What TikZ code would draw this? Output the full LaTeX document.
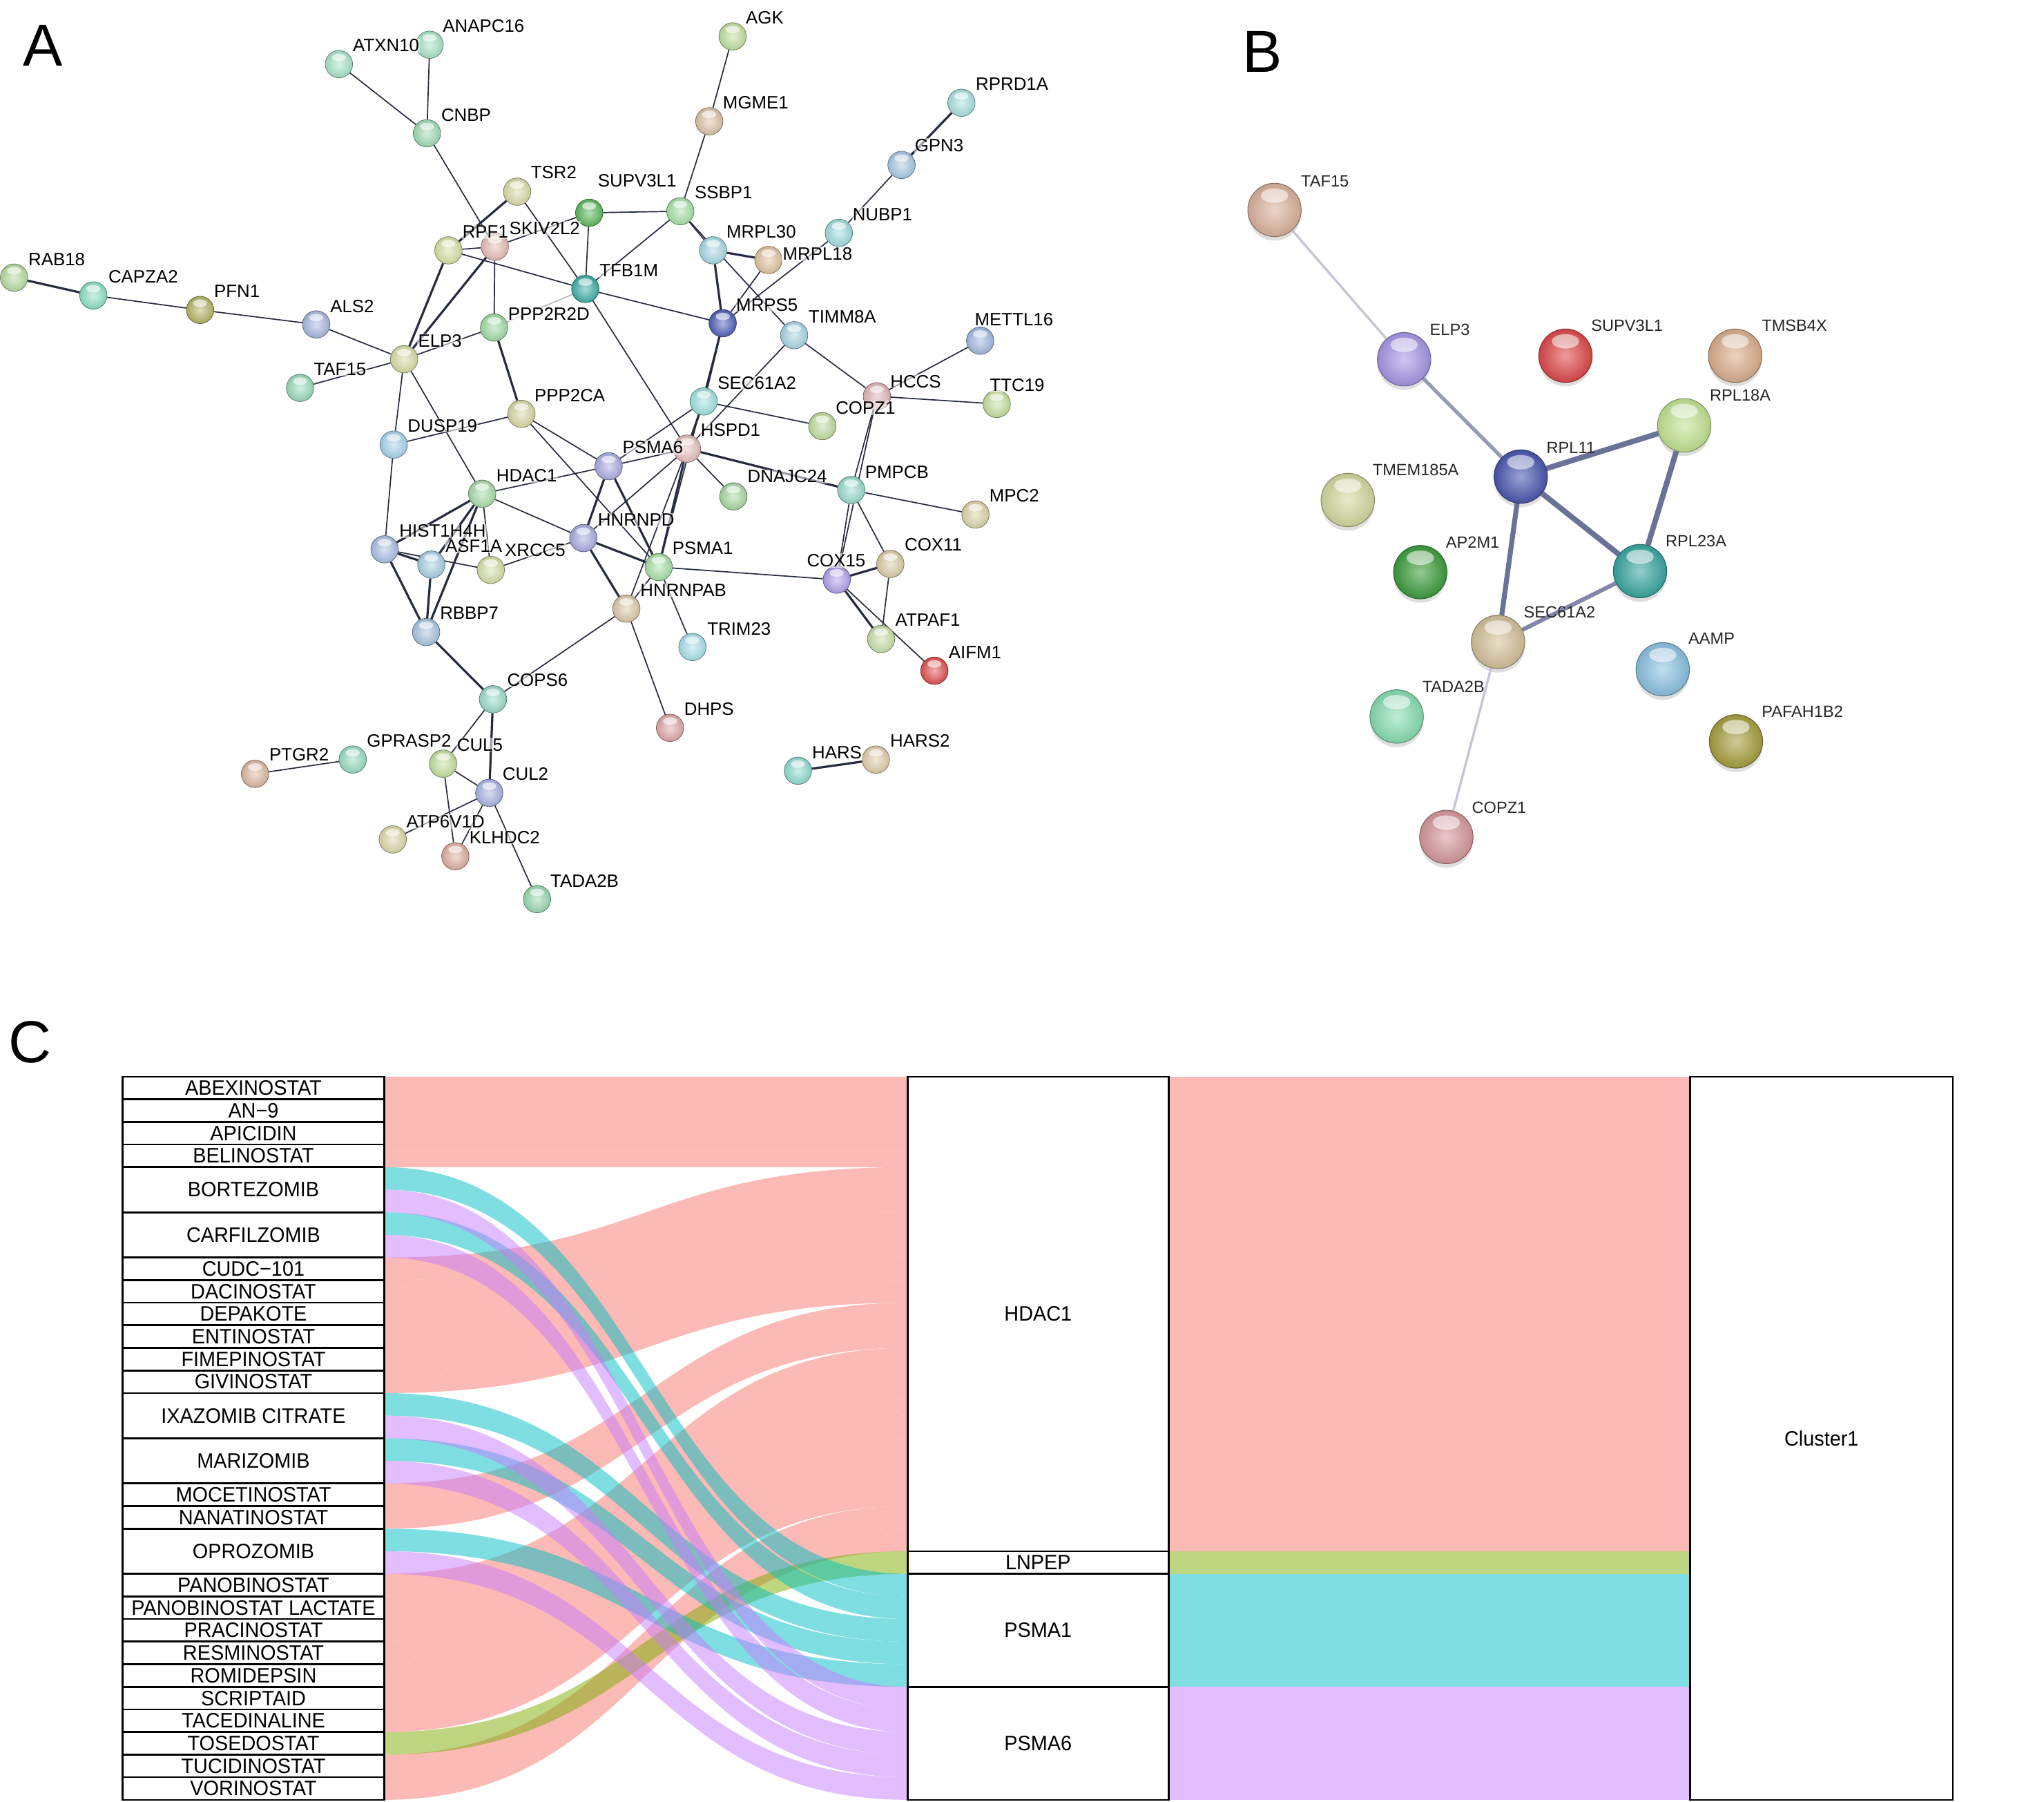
\documentclass[tikz,border=0pt]{standalone}
\usepackage{fontspec}
\setmainfont{Liberation Sans}
\usepackage{graphicx}
\pgfdeclarelayer{bg}
\pgfdeclarelayer{edges}
\pgfdeclarelayer{labels}
\pgfsetlayers{bg,edges,main,labels}
\definecolor{edgec}{HTML}{262C40}
\definecolor{fHD}{HTML}{F8766D}
\definecolor{fLN}{HTML}{7CAE00}
\definecolor{fPa}{HTML}{00BFC4}
\definecolor{fPb}{HTML}{C77CFF}
\definecolor{blA}{HTML}{C4C6D4}
\definecolor{blB}{HTML}{959CB4}
\definecolor{blC}{HTML}{6A7298}
\definecolor{blD}{HTML}{8088A8}
\newcommand\lblA{\fontsize{13.7}{14}\selectfont}
\newcommand\lblB{\fontsize{12.5}{13}\selectfont}
\newcommand\lblC{\fontsize{16}{17}\selectfont}
\newcommand\ctxt[1]{\scalebox{0.955}[1]{#1}}
\tikzset{
 ballA/.style={circle,inner sep=0pt,minimum size=21pt,draw=#1!55!black,line width=0.4pt,inner color=#1!45!white,outer color=#1!92!black,
   path picture={\fill[white,opacity=0.6] (path picture bounding box.center) ++(0,-5.2) ellipse (5.4 and 2.9);}},
 ballB/.style={circle,inner sep=0pt,minimum size=41pt,draw=#1!60!black,line width=0.5pt,inner color=#1!55!white,outer color=#1!90!black,
   path picture={\fill[white,opacity=0.55] (path picture bounding box.center) ++(0,-11) ellipse (10.5 and 5.5);}},
 labA/.style={anchor=west,inner sep=0.6pt,font=\lblA,fill=white,fill opacity=0.55,text opacity=1},
 labB/.style={anchor=west,inner sep=0.5pt,font=\lblB,text=black!85},
 ea/.style={draw=edgec,line width=0.9pt},
 eb/.style={draw=edgec,line width=1.7pt},
 flw/.style={fill=#1,fill opacity=0.5},
 cbox/.style={draw=black,line width=1.4pt,fill=white,inner sep=0pt,font=\lblC},
 plet/.style={anchor=base west,inner sep=0pt,font=\fontsize{45.5}{46}\selectfont},
}
\newcommand\gA[6]{\definecolor{c#1}{HTML}{#2}\node[ballA=c#1] (#1) at (#3,#4) {};\begin{pgfonlayer}{labels}\node[labA] (#1-l) at (#5,#6) {#1};\end{pgfonlayer}}
\newcommand\gB[6]{\definecolor{cB#1}{HTML}{#2}\begin{pgfonlayer}{bg}\fill[black,opacity=0.13] ({#3},{#4+3}) circle (20.5);\end{pgfonlayer}\node[ballB=cB#1] (B#1) at (#3,#4) {};\begin{pgfonlayer}{labels}\node[labB] (B#1-l) at (#5,#6) {#1};\end{pgfonlayer}}
\newcommand\flowL[3]{\fill[flw=#1] (294.7,{825.8+17.33*#2}) .. controls (495.45,{825.8+17.33*#2}) and (495.45,{825.8+17.33*#3}) .. (696.2,{825.8+17.33*#3}) -- (696.2,{825.8+17.33*(#3+1)}) .. controls (495.45,{825.8+17.33*(#3+1)}) and (495.45,{825.8+17.33*(#2+1)}) .. (294.7,{825.8+17.33*(#2+1)}) -- cycle;}
\begin{document}
\begin{tikzpicture}[x=1pt,y=-1pt]
\begin{pgfonlayer}{bg}
\fill[white] (0,0) rectangle (1568,1382);
\end{pgfonlayer}
\useasboundingbox (0,0) rectangle (1568,1382);
% ---------------- panel letters
\node[plet] (pA) at (17.7,50.7) {A};
\node[plet] (pB) at (953,55.1) {B};
\node[plet] (pC) at (6.5,815.2) {C};
% ---------------- panel A nodes
\gA{ATXN10}{A8E4C8}{260}{49.2}{270}{35}
\gA{ANAPC16}{A8E4C4}{329.6}{34.3}{339}{20}
\gA{CNBP}{A0DCB4}{327.5}{102.2}{337.7}{88}
\gA{RAB18}{B8DCA0}{10.8}{212.9}{21}{198.7}
\gA{CAPZA2}{8EE0C4}{71.6}{226.6}{82.4}{212}
\gA{PFN1}{B4B464}{153.5}{237.7}{163.5}{223.5}
\gA{ALS2}{A8B8E0}{242.6}{248.8}{252.6}{234.8}
\gA{ELP3}{D8DCA4}{310}{275.5}{320}{261.3}
\gA{TAF15}{98DCB8}{230.2}{297.5}{240}{283}
\gA{TSR2}{D8DCA8}{396.7}{147}{406.5}{132.4}
\gA{RPF1}{D8E0A4}{344}{192}{354}{178}
\gA{SKIV2L2}{E8BCB4}{379.6}{189.2}{390}{175}
\gA{PPP2R2D}{A0DCA4}{379}{251.2}{389}{241}
\gA{PPP2CA}{D8D8A8}{400}{317.4}{409.3}{303.2}
\gA{DUSP19}{A8D4EC}{302}{341}{312}{326.4}
\gA{HDAC1}{A8DCA8}{369.9}{378.7}{380}{364.9}
\gA{AGK}{C0E0A0}{562}{27.9}{571.4}{13.7}
\gA{MGME1}{DCC4A8}{544.1}{93}{553.8}{78.8}
\gA{RPRD1A}{A8E0E0}{737.5}{78.8}{747.8}{64.3}
\gA{GPN3}{A8C8E4}{691.6}{126.5}{701}{111.6}
\gA{NUBP1}{A0DCE0}{643.5}{178.6}{653.3}{164.4}
\gA{SUPV3L1}{5CB85C}{452}{163.2}{457.9}{138.4}
\gA{SSBP1}{A8E0A8}{521.9}{162}{532.2}{147.8}
\gA{MRPL30}{A8D8E4}{547}{192}{556.5}{177.8}
\gA{MRPL18}{E0C4A0}{589.5}{199.4}{599.7}{194.8}
\gA{TFB1M}{3EAEA6}{449}{221.6}{459.2}{207.4}
\gA{MRPS5}{5060B8}{554.4}{247.9}{564}{233.7}
\gA{TIMM8A}{A8D4E4}{609.2}{257.1}{619.5}{242.9}
\gA{METTL16}{A0B8E0}{751.9}{261.3}{747}{244.8}
\gA{SEC61A2}{A0E0E0}{539.8}{307.9}{549.8}{293.7}
\gA{HCCS}{E0B4B4}{672.7}{303.9}{682.2}{292.5}
\gA{COPZ1}{C0DCA0}{630.8}{326.8}{640.3}{312.7}
\gA{TTC19}{C4E0A0}{764.6}{309.8}{758.6}{295.2}
\gA{HSPD1}{E8C0BC}{527}{344.1}{536.8}{330}
\gA{PSMA6}{A8ACE0}{466.9}{357.6}{476.8}{343}
\gA{DNAJC24}{A8D8A0}{562.6}{380.7}{572.7}{365.4}
\gA{PMPCB}{98DCCC}{653}{375.8}{662.9}{362}
\gA{MPC2}{DCD4A8}{748.3}{394.6}{758.2}{380}
\gA{COX11}{DCCCA8}{683}{432.5}{693.2}{417.9}
\gA{COX15}{B0A0E8}{641.9}{444.6}{618.2}{430}
\gA{PSMA1}{A8E0A8}{505.3}{434.9}{515.1}{420.3}
\gA{HNRNPD}{A8ACE0}{447.5}{412.7}{457.9}{398.9}
\gA{HNRNPAB}{DCC8A8}{480.5}{466.8}{490.5}{452.9}
\gA{TRIM23}{A8E0E8}{531.2}{496.2}{541.8}{482.1}
\gA{ATPAF1}{C8E0A8}{675.9}{490.1}{686.1}{475.5}
\gA{AIFM1}{E05050}{716.8}{514.4}{727}{500.6}
\gA{DHPS}{E0A8A8}{514}{558.2}{524.1}{543.6}
\gA{HARS}{90DCD0}{612.1}{591.1}{622.2}{577}
\gA{HARS2}{E0CCA8}{671.9}{582.6}{682.1}{568}
\gA{HIST1H4H}{A8C0E4}{295}{421.3}{305.6}{407.4}
\gA{ASF1A}{A8D0E4}{330.9}{433}{341}{418.9}
\gA{XRCC5}{D4E0A8}{376.5}{437.1}{386.5}{422}
\gA{RBBP7}{A8C4E0}{326.9}{484.8}{336.8}{470.2}
\gA{COPS6}{98DCC8}{378.2}{536.3}{388.3}{521.7}
\gA{PTGR2}{DCB8A0}{195.6}{593.5}{205.8}{578.9}
\gA{GPRASP2}{98DCC0}{270.6}{582.5}{280.7}{568}
\gA{CUL5}{C4E0A0}{339.9}{585.7}{349.8}{571.1}
\gA{CUL2}{A8B4E4}{375.3}{608.1}{384.8}{593.5}
\gA{ATP6V1D}{DCD8A8}{301.3}{643.8}{311}{630}
\gA{KLHDC2}{DCB0A0}{349.3}{656.7}{359.3}{642.1}
\gA{TADA2B}{98D8B0}{412}{689.6}{421.5}{675.7}
% ---------------- panel B nodes
\gB{TAF15}{DDB49E}{977.7}{161}{997.4}{139.2}
\gB{ELP3}{A898E8}{1077.1}{275.5}{1096.2}{253}
\gB{SUPV3L1}{E04A4A}{1200.9}{272.8}{1220}{249.9}
\gB{TMSB4X}{DDB08E}{1331.1}{272.8}{1350.8}{249.9}
\gB{RPL18A}{C4E694}{1292}{326.2}{1311}{303.3}
\gB{RPL11}{4A58B0}{1166.6}{365.5}{1185.7}{343.4}
\gB{TMEM185A}{D6DBA0}{1033.9}{383.5}{1052.3}{360.6}
\gB{AP2M1}{3E9E3E}{1089.5}{438.8}{1108.5}{416}
\gB{RPL23A}{3AA8A2}{1258.1}{438}{1277.1}{415.2}
\gB{SEC61A2}{D6C49C}{1149.2}{492.3}{1168.2}{469.4}
\gB{AAMP}{8CC4E4}{1275.5}{513.3}{1294.6}{489.6}
\gB{TADA2B}{8AE0B4}{1071.4}{549.5}{1090.4}{526.6}
\gB{PAFAH1B2}{A8A040}{1331.7}{568.6}{1350.8}{545.7}
\gB{COPZ1}{D89A9E}{1109.5}{641.9}{1128.5}{619.4}
% ---------------- edges
\begin{pgfonlayer}{edges}
\foreach \a/\b in {ATXN10/CNBP, ANAPC16/CNBP, CNBP/SKIV2L2, TSR2/TFB1M, RPF1/SKIV2L2, SKIV2L2/SUPV3L1, RPF1/TFB1M, TFB1M/MRPS5, SKIV2L2/PPP2R2D, ELP3/PPP2R2D, ELP3/ALS2, ELP3/TAF15, ALS2/PFN1, PFN1/CAPZA2, ELP3/DUSP19, ELP3/HDAC1, PPP2CA/DUSP19, PPP2CA/PSMA6, PPP2CA/PSMA1, AGK/MGME1, MGME1/SSBP1, SUPV3L1/SSBP1, SUPV3L1/TFB1M, SSBP1/TFB1M, SSBP1/MRPL30, SSBP1/TIMM8A, MRPL18/MRPS5, NUBP1/GPN3, NUBP1/MRPS5, TIMM8A/HCCS, TIMM8A/HSPD1, HCCS/METTL16, HCCS/TTC19, HCCS/PMPCB, HCCS/COX15, PMPCB/COX15, SEC61A2/COPZ1, SEC61A2/PSMA6, MRPS5/PSMA1, HSPD1/HNRNPAB, TFB1M/HSPD1, PSMA6/HSPD1, HSPD1/DNAJC24, PSMA6/HDAC1, HSPD1/HNRNPD, HDAC1/HNRNPD, HDAC1/XRCC5, XRCC5/HNRNPD, HNRNPAB/COPS6, HNRNPAB/DHPS, HNRNPAB/PSMA1, PSMA1/COX15, PSMA1/TRIM23, PMPCB/COX11, COX11/ATPAF1, COX15/AIFM1, PMPCB/MPC2, DUSP19/HIST1H4H, HIST1H4H/XRCC5, COPS6/CUL5, CUL5/CUL2, CUL5/KLHDC2, CUL2/ATP6V1D, CUL2/KLHDC2, CUL2/TADA2B, GPRASP2/PTGR2}
  \draw[ea] (\a) -- (\b);
\foreach \a/\b in {TSR2/RPF1, RPF1/ELP3, SKIV2L2/ELP3, CAPZA2/RAB18, PPP2R2D/PPP2CA, MRPL30/MRPL18, MRPL30/MRPS5, GPN3/RPRD1A, MRPS5/SEC61A2, SEC61A2/HSPD1, HSPD1/PSMA1, HSPD1/PMPCB, PSMA6/HNRNPD, PSMA6/PSMA1, HNRNPD/PSMA1, HNRNPD/HNRNPAB, COX15/COX11, COX15/ATPAF1, HARS/HARS2, HDAC1/HIST1H4H, HDAC1/ASF1A, HDAC1/RBBP7, HIST1H4H/ASF1A, HIST1H4H/RBBP7, ASF1A/RBBP7, RBBP7/COPS6, COPS6/CUL2}
  \draw[eb] (\a) -- (\b);
\draw[draw=gray!55,line width=0.9pt] (PPP2R2D) -- (TFB1M);
% panel B edges
\draw[draw=blA,line width=1.8pt] (BTAF15) -- (BELP3);
\draw[draw=blB,line width=2.8pt] (BELP3) -- (BRPL11);
\draw[draw=blC,line width=4.2pt] (BRPL11) -- (BRPL18A);
\draw[draw=blC,line width=4.2pt] (BRPL11) -- (BRPL23A);
\draw[draw=blC,line width=4.2pt] (BRPL18A) -- (BRPL23A);
\draw[draw=blC,line width=3.8pt] (BRPL11) -- (BSEC61A2);
\draw[draw=blD,line width=3.2pt] (BSEC61A2) -- (BRPL23A);
\draw[draw=blA,line width=1.8pt] (BSEC61A2) -- (BCOPZ1);
\end{pgfonlayer}
% ---------------- panel C flows
\foreach \l/\r in {0/0,1/1,2/2,3/3,8/4,9/5,10/6,11/7,12/8,13/9,18/10,19/11,22/12,23/13,24/14,25/15,26/16,27/17,28/18,30/19,31/20}
  {\flowL{fHD}{\l}{\r}}
\flowL{fLN}{29}{21}
\foreach \l/\r in {4/22,6/23,14/24,16/25,20/26}
  {\flowL{fPa}{\l}{\r}}
\foreach \l/\r in {5/27,7/28,15/29,17/30,21/31}
  {\flowL{fPb}{\l}{\r}}
\foreach \k/\c in {0/fHD,1/fHD,2/fHD,3/fHD,4/fHD,5/fHD,6/fHD,7/fHD,8/fHD,9/fHD,10/fHD,11/fHD,12/fHD,13/fHD,14/fHD,15/fHD,16/fHD,17/fHD,18/fHD,19/fHD,20/fHD,21/fLN,22/fPa,23/fPa,24/fPa,25/fPa,26/fPa,27/fPb,28/fPb,29/fPb,30/fPb,31/fPb}
  {\fill[flw=\c] (896.5,{825.8+17.33*\k}) rectangle (1296.6,{825.8+17.33*(\k+1)});}
% ---------------- panel C boxes
\foreach \nm/\s/\z [count=\i] in {ABEXINOSTAT/0/1, AN−9/1/1, APICIDIN/2/1, BELINOSTAT/3/1, BORTEZOMIB/4/2, CARFILZOMIB/6/2, CUDC−101/8/1, DACINOSTAT/9/1, DEPAKOTE/10/1, ENTINOSTAT/11/1, FIMEPINOSTAT/12/1, GIVINOSTAT/13/1, IXAZOMIB CITRATE/14/2, MARIZOMIB/16/2, MOCETINOSTAT/18/1, NANATINOSTAT/19/1, OPROZOMIB/20/2, PANOBINOSTAT/22/1, PANOBINOSTAT LACTATE/23/1, PRACINOSTAT/24/1, RESMINOSTAT/25/1, ROMIDEPSIN/26/1, SCRIPTAID/27/1, TACEDINALINE/28/1, TOSEDOSTAT/29/1, TUCIDINOSTAT/30/1, VORINOSTAT/31/1}
  {\node[cbox,minimum width=200.6pt,minimum height={\z*17.33pt}] (L\i) at (194.4,{825.8+17.33*(\s+\z/2)}) {\ctxt{\nm}};}
\node[cbox,minimum width=200.3pt,minimum height={21*17.33pt}] (mHDAC1) at (796.35,{825.8+17.33*10.5}) {\ctxt{HDAC1}};
\node[cbox,minimum width=200.3pt,minimum height={17.33pt}] (mLNPEP) at (796.35,{825.8+17.33*21.5}) {\ctxt{LNPEP}};
\node[cbox,minimum width=200.3pt,minimum height={5*17.33pt}] (mPSMA1) at (796.35,{825.8+17.33*24.5}) {\ctxt{PSMA1}};
\node[cbox,minimum width=200.3pt,minimum height={5*17.33pt}] (mPSMA6) at (796.35,{825.8+17.33*29.5}) {\ctxt{PSMA6}};
\node[cbox,minimum width=201.4pt,minimum height={32*17.33pt}] (rCluster) at (1397.3,{825.8+17.33*16}) {\ctxt{Cluster1}};
\end{tikzpicture}
\end{document}
